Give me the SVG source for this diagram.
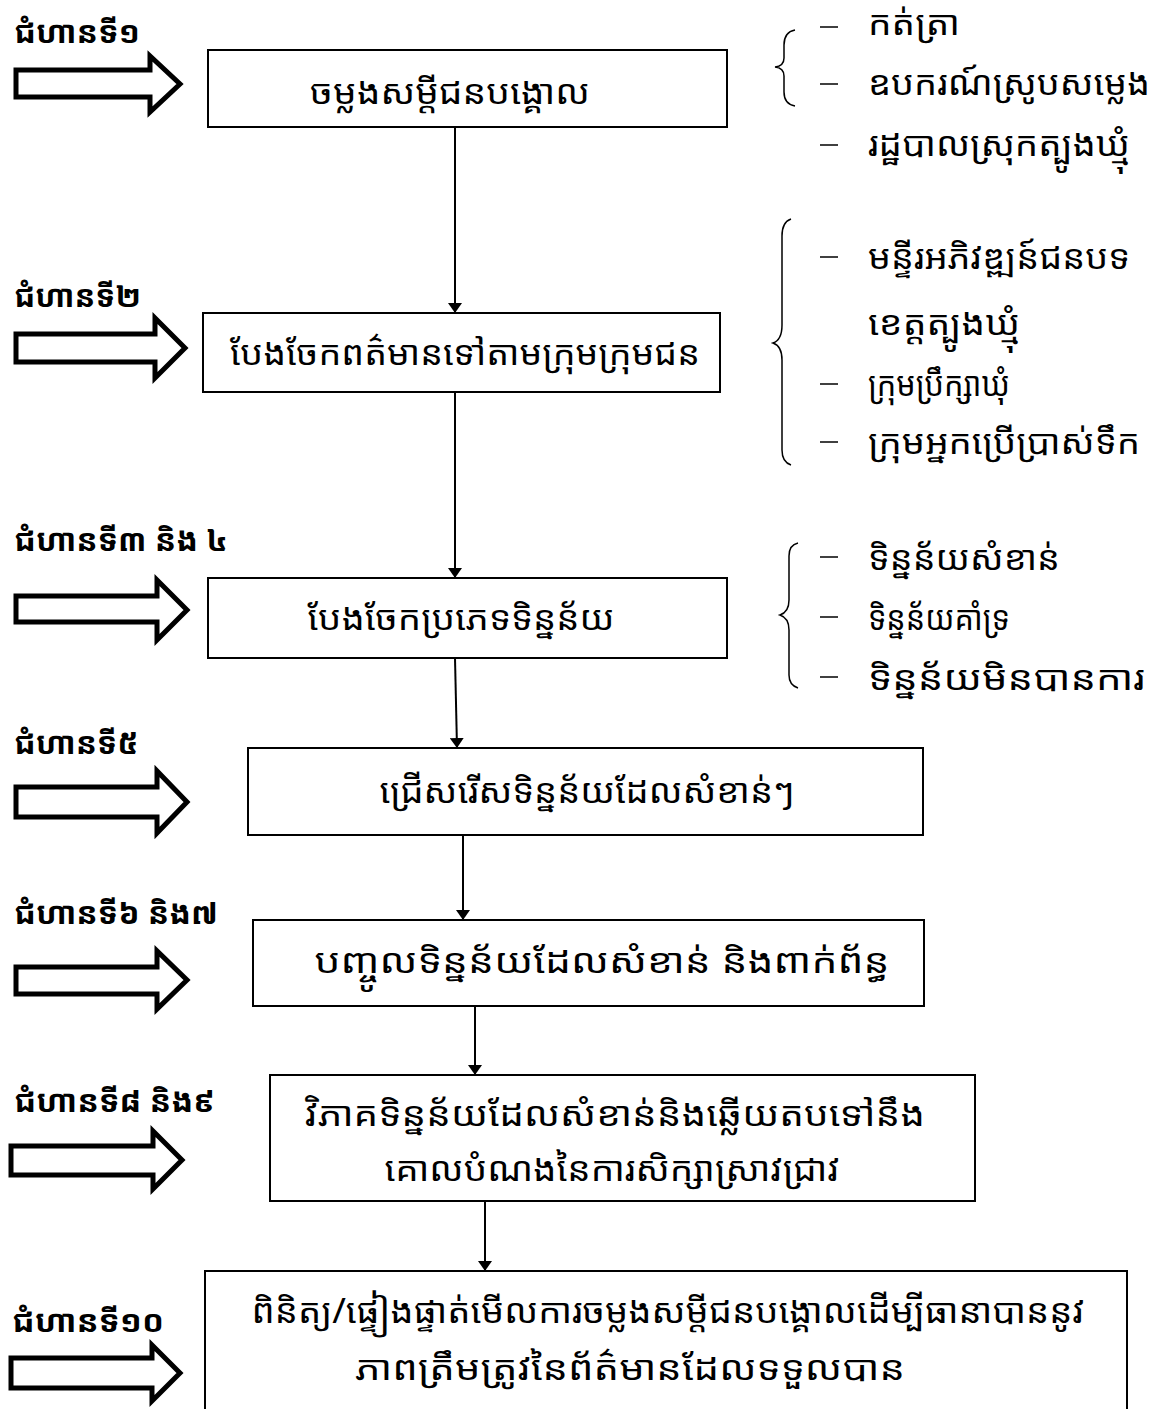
<svg xmlns="http://www.w3.org/2000/svg" width="1162" height="1409" viewBox="0 0 1162 1409">
<defs>
<style>
.box{fill:#fff;stroke:#000;stroke-width:2}
.blk{fill:#fff;stroke:#000;stroke-width:5;stroke-linejoin:miter}
.lbl{font-family:"Noto Sans Khmer","Khmer OS","Noto Sans",sans-serif;font-size:31px;font-weight:bold;fill:#000}
.t{font-family:"Noto Sans Khmer","Khmer OS","Noto Sans",sans-serif;font-size:34px;fill:#000;text-anchor:middle}
.li{font-family:"Noto Sans Khmer","Khmer OS","Noto Sans",sans-serif;font-size:34px;fill:#000}
.dash{stroke:#000;stroke-width:1.5}
.brace{fill:none;stroke:#000;stroke-width:1.5}
.con{stroke:#000;stroke-width:2;fill:none}
</style>
<marker id="ah" viewBox="0 0 10 14" refX="10" refY="7" markerWidth="10" markerHeight="14" markerUnits="userSpaceOnUse" orient="auto">
<path d="M0,0 L10,7 L0,14 Z" fill="#000"/>
</marker>
</defs>
<rect width="1162" height="1409" fill="#fff"/>

<g id="step1">
<text class="lbl" x="14" y="43" textLength="126" lengthAdjust="spacingAndGlyphs">ជំហានទី១</text>
<path class="blk" d="M16,70 H150 V56 L180,84 L150,112 V97 H16 Z"/>
</g>
<g id="step2">
<text class="lbl" x="14" y="307" textLength="127" lengthAdjust="spacingAndGlyphs">ជំហានទី២</text>
<path class="blk" d="M16,334 H155 V318 L185,348 L155,378 V362 H16 Z"/>
</g>
<g id="step3">
<text class="lbl" x="14" y="551" textLength="214" lengthAdjust="spacingAndGlyphs">ជំហានទី៣ និង ៤</text>
<path class="blk" d="M16,596 H157 V580 L187,610 L157,640 V622 H16 Z"/>
</g>
<g id="step5">
<text class="lbl" x="14" y="754" textLength="124" lengthAdjust="spacingAndGlyphs">ជំហានទី៥</text>
<path class="blk" d="M16,787 H157 V771 L187,802 L157,833 V817 H16 Z"/>
</g>
<g id="step6">
<text class="lbl" x="14" y="924" textLength="204" lengthAdjust="spacingAndGlyphs">ជំហានទី៦ និង៧</text>
<path class="blk" d="M16,967 H157 V951 L187,980 L157,1009 V994 H16 Z"/>
</g>
<g id="step8">
<text class="lbl" x="14" y="1112" textLength="201" lengthAdjust="spacingAndGlyphs">ជំហានទី៨ និង៩</text>
<path class="blk" d="M11,1146 H153 V1131 L182,1160 L153,1189 V1175 H11 Z"/>
</g>
<g id="step10">
<text class="lbl" x="12" y="1332" textLength="152" lengthAdjust="spacingAndGlyphs">ជំហានទី១០</text>
<path class="blk" d="M11,1358 H152 V1345 L180,1373 L152,1401 V1388 H11 Z"/>
</g>

<g id="connectors">
<line class="con" x1="455" y1="127" x2="455" y2="313" marker-end="url(#ah)"/>
<line class="con" x1="455" y1="392" x2="455" y2="578" marker-end="url(#ah)"/>
<line class="con" x1="455" y1="658" x2="457" y2="748" marker-end="url(#ah)"/>
<line class="con" x1="463" y1="835" x2="463" y2="920" marker-end="url(#ah)"/>
<line class="con" x1="475" y1="1006" x2="475" y2="1075" marker-end="url(#ah)"/>
<line class="con" x1="485" y1="1201" x2="485" y2="1271" marker-end="url(#ah)"/>
</g>

<g id="box1">
<rect class="box" x="208" y="50" width="519" height="77"/>
<text class="t" x="450" y="104" textLength="280" lengthAdjust="spacingAndGlyphs">ចម្លងសម្តីជនបង្គោល</text>
</g>
<g id="box2">
<rect class="box" x="203" y="313" width="517" height="79"/>
<text class="t" x="465" y="365" textLength="470" lengthAdjust="spacingAndGlyphs">បែងចែកពត៌មានទៅតាមក្រុមក្រុមជន</text>
</g>
<g id="box3">
<rect class="box" x="208" y="578" width="519" height="80"/>
<text class="t" x="461" y="630" textLength="307" lengthAdjust="spacingAndGlyphs">បែងចែកប្រភេទទិន្នន័យ</text>
</g>
<g id="box4">
<rect class="box" x="248" y="748" width="675" height="87"/>
<text class="t" x="587" y="803" textLength="415" lengthAdjust="spacingAndGlyphs">ជ្រើសរើសទិន្នន័យដែលសំខាន់ៗ</text>
</g>
<g id="box5">
<rect class="box" x="253" y="920" width="671" height="86"/>
<text class="t" x="602" y="973" textLength="575" lengthAdjust="spacingAndGlyphs">បញ្ចូលទិន្នន័យដែលសំខាន់ និងពាក់ព័ន្ធ</text>
</g>
<g id="box6">
<rect class="box" x="270" y="1075" width="705" height="126"/>
<text class="t" x="615" y="1126" textLength="620" lengthAdjust="spacingAndGlyphs">វិភាគទិន្នន័យដែលសំខាន់និងឆ្លើយតបទៅនឹង</text>
<text class="t" x="612" y="1181" textLength="455" lengthAdjust="spacingAndGlyphs">គោលបំណងនៃការសិក្សាស្រាវជ្រាវ</text>
</g>
<g id="box7">
<rect class="box" x="205" y="1271" width="922" height="150"/>
<text class="t" x="668" y="1323" textLength="833" lengthAdjust="spacingAndGlyphs">ពិនិត្យ/ផ្ទៀងផ្ទាត់មើលការចម្លងសម្តីជនបង្គោលដើម្បីធានាបាននូវ</text>
<text class="t" x="630" y="1380" textLength="550" lengthAdjust="spacingAndGlyphs">ភាពត្រឹមត្រូវនៃព័ត៌មានដែលទទួលបាន</text>
</g>

<g id="list1">
<path class="brace" d="M795,30 Q784,32 784,45 V58 Q784,66 775,67 Q784,68 784,76 V92 Q784,104 795,106"/>
<line class="dash" x1="820" y1="27" x2="838" y2="27"/>
<line class="dash" x1="820" y1="84" x2="838" y2="84"/>
<line class="dash" x1="820" y1="145" x2="838" y2="145"/>
<text class="li" x="868" y="35" textLength="92" lengthAdjust="spacingAndGlyphs">កត់ត្រា</text>
<text class="li" x="868" y="95" textLength="282" lengthAdjust="spacingAndGlyphs">ឧបករណ៍ស្រូបសម្លេង</text>
<text class="li" x="868" y="156" textLength="262" lengthAdjust="spacingAndGlyphs">រដ្ឋបាលស្រុកត្បូងឃ្មុំ</text>
</g>
<g id="list2">
<path class="brace" d="M791,219 Q782,222 782,236 V325 Q782,340 773,343 Q782,346 782,360 V450 Q782,462 791,465"/>
<line class="dash" x1="820" y1="257" x2="838" y2="257"/>
<line class="dash" x1="820" y1="384" x2="838" y2="384"/>
<line class="dash" x1="820" y1="442" x2="838" y2="442"/>
<text class="li" x="868" y="269" textLength="262" lengthAdjust="spacingAndGlyphs">មន្ទីរអភិវឌ្ឍន៍ជនបទ</text>
<text class="li" x="868" y="335" textLength="152" lengthAdjust="spacingAndGlyphs">ខេត្តត្បូងឃ្មុំ</text>
<text class="li" x="868" y="396" textLength="142" lengthAdjust="spacingAndGlyphs">ក្រុមប្រឹក្សាឃុំ</text>
<text class="li" x="868" y="454" textLength="272" lengthAdjust="spacingAndGlyphs">ក្រុមអ្នកប្រើប្រាស់ទឹក</text>
</g>
<g id="list3">
<path class="brace" d="M798,543 Q789,545 789,556 V600 Q789,612 780,615 Q789,618 789,630 V675 Q789,685 798,688"/>
<line class="dash" x1="820" y1="557" x2="838" y2="557"/>
<line class="dash" x1="820" y1="617" x2="838" y2="617"/>
<line class="dash" x1="820" y1="677" x2="838" y2="677"/>
<text class="li" x="868" y="570" textLength="192" lengthAdjust="spacingAndGlyphs">ទិន្នន័យសំខាន់</text>
<text class="li" x="868" y="630" textLength="142" lengthAdjust="spacingAndGlyphs">ទិន្នន័យគាំទ្រ</text>
<text class="li" x="868" y="690" textLength="277" lengthAdjust="spacingAndGlyphs">ទិន្នន័យមិនបានការ</text>
</g>
</svg>
